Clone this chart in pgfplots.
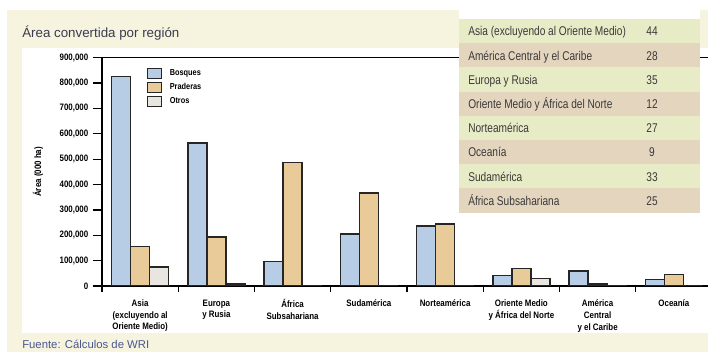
\documentclass[border=0pt]{standalone}
\usepackage{pgfplots}
\pgfplotsset{compat=1.18}
\usepackage{pgfplotstable}
\usepackage{fontspec}
\setmainfont{Liberation Sans}
\newfontfamily\condb[FakeStretch=0.85]{Liberation Sans}
\newfontfamily\condr[FakeStretch=0.8]{Liberation Sans}
\definecolor{cream}{HTML}{F6F4DE}
\definecolor{bosq}{HTML}{B7CDE6}
\definecolor{prad}{HTML}{E8CB98}
\definecolor{otro}{HTML}{E9E5E1}
\definecolor{tgreen}{HTML}{E8ECC6}
\definecolor{ttan}{HTML}{E4D5BE}
\definecolor{titlec}{HTML}{3B3B4F}
\definecolor{srcc}{HTML}{4A5890}
\definecolor{tabtext}{HTML}{3A3A3A}
\pgfplotstableread{
x B P O
0 826000 155000 74000
1 564000 194000 8000
2 96000 487000 3000
3 205000 367000 2000
4 237000 244000 2000
5 41000 68000 30000
6 59000 8000 3000
7 26000 46000 0
}\datatab
\begin{document}
\begin{tikzpicture}[x=0.75pt,y=-0.75pt]
\useasboundingbox (0,0) rectangle (708,352);
\fill[white] (0,0) rectangle (708,352);
\fill[cream] (7,10) rectangle (708,352);
\fill[white] (22,48) rectangle (708,333);
\node[anchor=base west,inner sep=0pt,text=titlec,font=\fontsize{10}{12}\selectfont] at (22,37.5) {Área convertida por región};
\node[anchor=base west,inner sep=0pt,text=srcc,font=\fontsize{8.5}{10}\selectfont] at (22,349) {Fuente: Cálculos de WRI};
\begin{axis}[
  at={(76.5pt,-214.5pt)}, anchor=south west,
  scale only axis, width=457.5pt, height=171.2pt,
  xmin=-0.5, xmax=7.5, ymin=0, ymax=900000,
  axis x line=box, axis y line=left,
  axis line style={-, line width=1pt, black},
  ybar=0pt, bar width=14.25pt,
  xtick={0,...,7},
  xticklabels={{Asia\\(excluyendo al\\Oriente Medio)},{Europa\\y Rusia},{África\\Subsahariana},{Sudamérica},{Norteamérica},{Oriente Medio\\y África del Norte},{América\\Central\\y el Caribe},{Oceanía}},
  xtick pos=bottom,
  major x tick style={draw=none},
  minor xtick={-0.5,0.5,...,6.5},
  minor x tick style={draw=black, line width=1pt},
  minor tick length=4.5pt,
  major tick length=6.75pt,
  tick align=outside,
  ytick={0,100000,...,900000},
  ytick pos=left,
  major y tick style={line width=1pt, black},
  scaled y ticks=false,
  /pgf/number format/assume math mode=true,
  yticklabel={\pgfmathprintnumber[fixed,1000 sep={,}]{\tick}},
  ticklabel style={font=\condb\bfseries\fontsize{7}{8.8}\selectfont},
  xticklabel style={align=center},
  ylabel={Área (000 ha)},
  ylabel style={at={(axis description cs:-0.105,0.5)}, anchor=center, font=\condb\bfseries\fontsize{7}{8}\selectfont},
  legend style={at={(axis description cs:0.067,0.968)}, anchor=north west, draw=none, fill=none,
    font=\condb\bfseries\fontsize{6.5}{7}\selectfont, row sep=2pt,
    nodes={inner sep=1pt},
    /tikz/every odd column/.append style={column sep=4.5pt}},
  legend cell align=left,
  legend image code/.code={\draw[#1, line width=1pt] (0pt,-3.75pt) rectangle (10.5pt,3.75pt);},
]
\addplot[fill=bosq, draw=black!85, line width=1.1pt] table[x=x,y=B]{\datatab};
\addplot[fill=prad, draw=black!85, line width=1.1pt] table[x=x,y=P]{\datatab};
\addplot[fill=otro, draw=black!85, line width=1.1pt] table[x=x,y=O]{\datatab};
\legend{Bosques,Praderas,Otros}
\end{axis}
% table overlay
\fill[white] (459,10) rectangle (700,19);
\foreach \i/\lab/\val/\col in {0/Asia (excluyendo al Oriente Medio)/44/tgreen,1/América Central y el Caribe/28/ttan,2/Europa y Rusia/35/tgreen,3/Oriente Medio y África del Norte/12/ttan,4/Norteamérica/27/tgreen,5/Oceanía/9/ttan,6/Sudamérica/33/tgreen,7/África Subsahariana/25/ttan}{
  \fill[\col] (459,19+24.2*\i) rectangle (700,19+24.2*\i+24.2);
  \node[anchor=base west,inner sep=0pt,text=tabtext,font=\condr\fontsize{9.5}{11}\selectfont] at (468,36+24.2*\i) {\lab};
  \node[anchor=base,inner sep=0pt,text=tabtext,font=\condr\fontsize{9.5}{11}\selectfont] at (652,36+24.2*\i) {\val};
}
\end{tikzpicture}
\end{document}
